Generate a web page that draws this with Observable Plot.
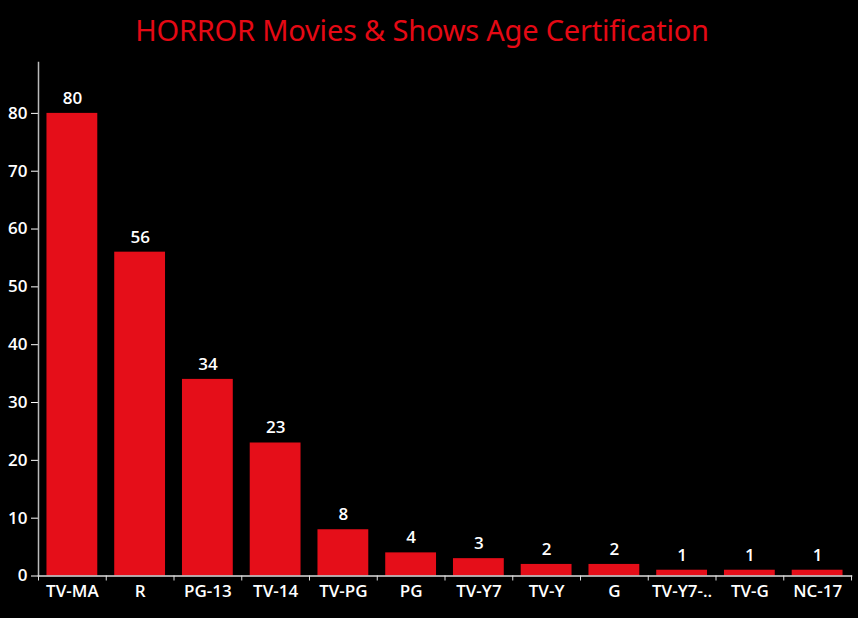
<!DOCTYPE html>
<html>
<head>
<meta charset="utf-8">
<script src="https://cdn.jsdelivr.net/npm/d3@7"></script>
<script src="https://cdn.jsdelivr.net/npm/@observablehq/plot@0.6"></script>
<style>
  html, body { margin: 0; padding: 0; background: #000; }
  #title { height: 60px; line-height: 59px; text-align: center; color: #e50914; padding-right: 14px;
    font-family: "Noto Sans", sans-serif; font-size: 29px; font-weight: 400; letter-spacing: -0.2px; }
  svg { display: block; }
</style>
</head>
<body>
<div id="title">HORROR Movies &amp; Shows Age Certification</div>
<div id="chart"></div>
<script>
const categories = ["TV-MA", "R", "PG-13", "TV-14", "TV-PG", "PG", "TV-Y7", "TV-Y", "G", "TV-Y7-..", "TV-G", "NC-17"];
const counts = [80, 56, 34, 23, 8, 4, 3, 2, 2, 1, 1, 1];
const yTicks = [0, 10, 20, 30, 40, 50, 60, 70, 80];

const data = categories.map((c, i) => ({cert: c, count: counts[i]}));

const width = 858, height = 558;
const marginLeft = 38, marginRight = 7, marginTop = 2, marginBottom = 42.5;
const step = (width - marginLeft - marginRight) / categories.length;
const font = "'Open Sans', 'Noto Sans', sans-serif";

const chart = Plot.plot({
  width, height, marginLeft, marginRight, marginTop, marginBottom,
  style: {background: "#000", color: "#fff", fontFamily: font, fontSize: "17px", fontWeight: 600},
  x: {domain: categories, paddingInner: 0.25, paddingOuter: 0.125, round: false, label: null},
  y: {domain: [0, 88.8], label: null},
  marks: [
    Plot.barY(data, {x: "cert", y: "count", fill: "#e50e19"}),
    Plot.text(data, {x: "cert", y: "count", text: d => String(d.count), dy: -15, fill: "#fff", fontSize: 17, fontWeight: 600}),
    Plot.axisY({ticks: yTicks, tickSize: 7, tickPadding: 4, stroke: "#fff", fill: "#fff", fontSize: 17, fontWeight: 600, label: null}),
    Plot.axisX({tickSize: 0, tickPadding: 9, fill: "#fff", fontSize: 17, fontWeight: 600, label: null}),
    Plot.axisX({tickSize: 5, text: null, stroke: "#ddd", dx: -step / 2, label: null}),
    Plot.axisX({ticks: [categories[categories.length - 1]], tickSize: 5, text: null, stroke: "#ddd", dx: step / 2, label: null}),
    Plot.frame({anchor: "left", stroke: "#bbb", strokeWidth: 1.5}),
    Plot.frame({anchor: "bottom", stroke: "#ddd", strokeWidth: 1.5})
  ]
});
document.getElementById("chart").appendChild(chart);
</script>
</body>
</html>
